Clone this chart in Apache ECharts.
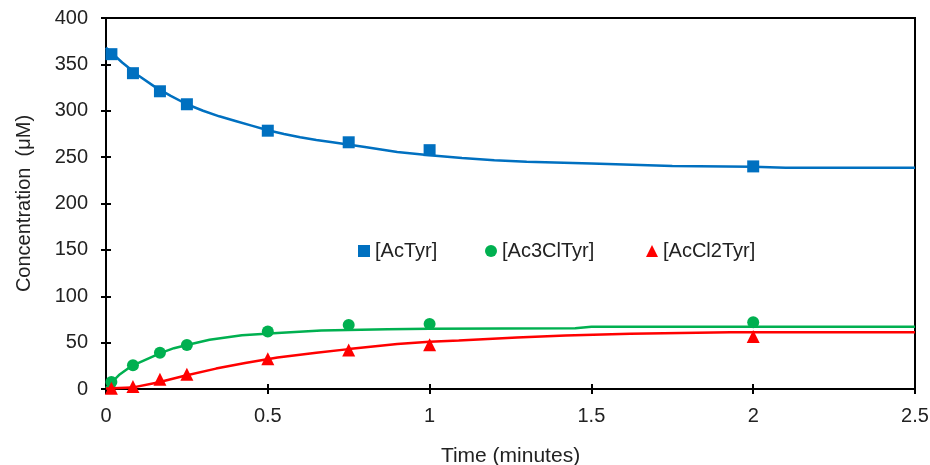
<!DOCTYPE html>
<html>
<head>
<meta charset="utf-8">
<script src="https://cdn.jsdelivr.net/npm/echarts@6/dist/echarts.min.js"></script>
<style>html,body{margin:0;padding:0;background:#fff}#c{width:930px;height:465px}</style>
</head>
<body>
<div id="c"></div>
<script>
// Measured points
var obsTime = [0.0167, 0.0833, 0.1667, 0.25, 0.5, 0.75, 1.0, 2.0];
var acTyr = [361, 340.5, 321, 307, 278.5, 266, 257.5, 240];
var ac3ClTyr = [7.5, 25.5, 39, 47.5, 62, 69, 70, 72];
var acCl2Tyr = [0.7, 2.7, 10.5, 16, 32.5, 42, 47.6, 56.5];

// Fitted curves
var fitTimeA = [0, 0.05, 0.1, 0.15, 0.2, 0.25, 0.3, 0.35, 0.4, 0.45, 0.5, 0.55, 0.6, 0.65, 0.7, 0.8, 0.9, 1.0, 1.1, 1.2, 1.3, 1.5, 1.75, 2.0, 2.1, 2.5];
var fitAcTyr = [368, 352, 338, 326, 316, 307, 300, 294, 289, 284, 279, 275, 271.5, 268.5, 266, 261, 255.5, 252, 249, 246.5, 245, 243, 240.5, 239.5, 238.6, 238.6];
var fitTimeB = [0, 0.04, 0.08, 0.125, 0.17, 0.21, 0.25, 0.32, 0.42, 0.53, 0.665, 0.87, 1.0, 1.45, 1.5, 2.5];
var fitAc3ClTyr = [1, 15, 25, 32, 39, 44, 47.5, 53, 58, 60.5, 63, 64.5, 65, 65.5, 67, 67];
var fitTimeC = [0, 0.08, 0.16, 0.24, 0.34, 0.43, 0.53, 0.65, 0.75, 0.9, 1.0, 1.09, 1.27, 1.42, 1.62, 1.93, 2.5];
var fitAcCl2Tyr = [0.5, 1.5, 7, 14, 22, 28, 34, 39, 43, 48.5, 51, 52.3, 55.5, 57.6, 59.5, 61.3, 61.3];

var xTicks = [0, 0.5, 1, 1.5, 2, 2.5];
var yTicks = [0, 50, 100, 150, 200, 250, 300, 350, 400];
var names = ['[AcTyr]', '[Ac3ClTyr]', '[AcCl2Tyr]'];

function zip(a, b) { return a.map(function (v, i) { return [v, b[i]]; }); }

var FONT = 'Liberation Sans, Arial, sans-serif';
var TXT = '#222';
var colors = ['#0070C0', '#00B050', '#FF0000'];
var G = { left: 106, right: 15, top: 18, bottom: 76 };

var tickStyle = { color: '#000', width: 2 };

// main axes: outward ticks with labels; mirror axes: placed on zero of the other axis,
// pointing their (outward) ticks into the plot so ticks cross the axis line.
function xAx(pos) {
  var main = pos === 'bottom';
  return {
    type: 'value', position: pos,
    min: xTicks[0], max: xTicks[xTicks.length - 1], interval: 0.5,
    name: main ? 'Time (minutes)' : '', nameLocation: 'middle', nameGap: 57,
    nameTextStyle: { fontFamily: FONT, fontSize: 21, color: TXT },
    axisLine: { show: main, onZero: !main, onZeroAxisIndex: 0, lineStyle: { color: '#000', width: 2 } },
    axisTick: { show: true, inside: false, length: 5, lineStyle: tickStyle },
    axisLabel: { show: main, fontFamily: FONT, fontSize: 20, color: TXT, margin: 17 },
    splitLine: { show: false }
  };
}
function yAx(pos) {
  var main = pos === 'left';
  return {
    type: 'value', position: pos,
    min: yTicks[0], max: yTicks[yTicks.length - 1], interval: 50,
    name: main ? 'Concentration  (\u03bcM)' : '', nameLocation: 'middle', nameGap: 72, nameRotate: 90,
    nameTextStyle: { fontFamily: FONT, fontSize: 20, color: TXT },
    axisLine: { show: main, onZero: !main, onZeroAxisIndex: 0, lineStyle: { color: '#000', width: 2 } },
    axisTick: { show: true, inside: false, length: 5, lineStyle: tickStyle },
    axisLabel: { show: main, fontFamily: FONT, fontSize: 20, color: TXT, margin: 18 },
    splitLine: { show: false }
  };
}

function legendAt(name, left, icon) {
  return {
    data: [{ name: name, icon: icon }], left: left, top: 241, padding: 0, itemWidth: 12, itemHeight: 12,
    textStyle: { fontFamily: FONT, fontSize: 20, color: TXT }, selectedMode: false
  };
}

var chart = echarts.init(document.getElementById('c'), null, { renderer: 'canvas' });
chart.setOption({
  animation: false,
  backgroundColor: '#fff',
  grid: Object.assign({ show: true, borderColor: '#000', borderWidth: 2, backgroundColor: 'transparent', outerBoundsMode: 'none', containLabel: false }, G),
  xAxis: [xAx('bottom'), xAx('top')],
  yAxis: [yAx('left'), yAx('right')],
  legend: [
    legendAt(names[0], 358, 'rect'),
    legendAt(names[1], 485, 'circle'),
    legendAt(names[2], 646, 'triangle')
  ],
  series: [
    { type: 'line', name: 'fitA', data: zip(fitTimeA, fitAcTyr), showSymbol: false, symbol: 'none', lineStyle: { color: colors[0], width: 2.5 }, itemStyle: { color: colors[0] }, z: 2 },
    { type: 'line', name: 'fitB', data: zip(fitTimeB, fitAc3ClTyr), showSymbol: false, symbol: 'none', lineStyle: { color: colors[1], width: 2.5 }, itemStyle: { color: colors[1] }, z: 2 },
    { type: 'line', name: 'fitC', data: zip(fitTimeC, fitAcCl2Tyr), showSymbol: false, symbol: 'none', lineStyle: { color: colors[2], width: 2.5 }, itemStyle: { color: colors[2] }, z: 2 },
    { type: 'scatter', name: names[0], data: zip(obsTime, acTyr), symbol: 'rect', symbolSize: 12, itemStyle: { color: colors[0], opacity: 1 }, z: 3 },
    { type: 'scatter', name: names[1], data: zip(obsTime, ac3ClTyr), symbol: 'circle', symbolSize: 12, itemStyle: { color: colors[1], opacity: 1 }, z: 3 },
    { type: 'scatter', name: names[2], data: zip(obsTime, acCl2Tyr), symbol: 'triangle', symbolSize: 13, itemStyle: { color: colors[2], opacity: 1 }, z: 3 }
  ]
});
</script>
</body>
</html>
